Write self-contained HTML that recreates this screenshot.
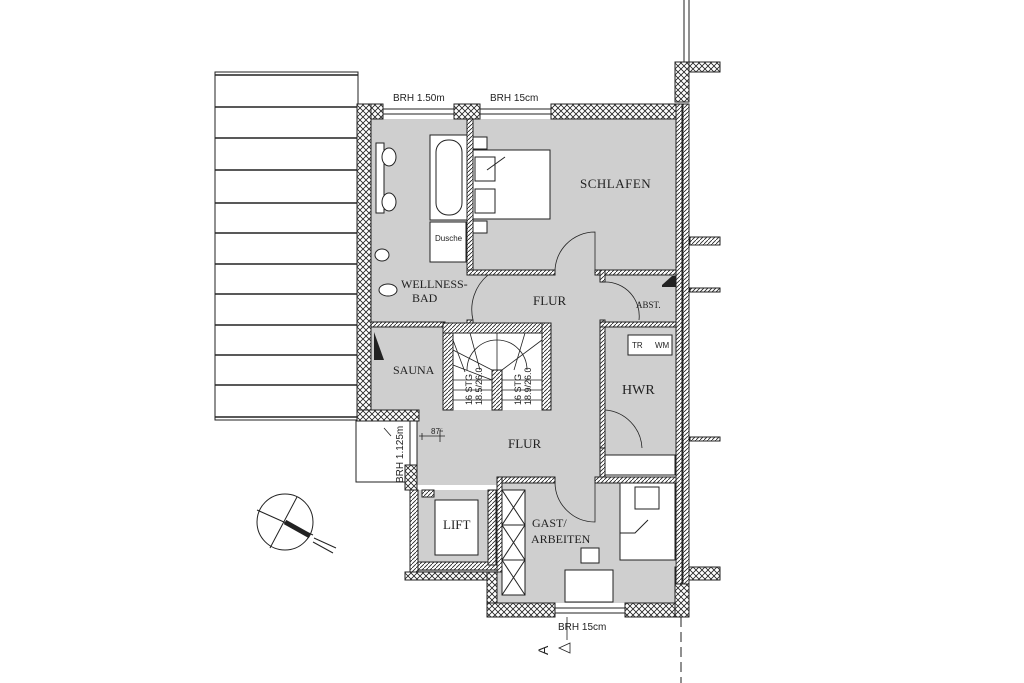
<!DOCTYPE html>
<html><head><meta charset="utf-8"><style>
html,body{margin:0;padding:0;background:#fff;}
svg{display:block}
text{font-family:"Liberation Serif",serif;fill:#222}
.s{font-family:"Liberation Sans",sans-serif}
</style></head><body>
<svg width="1024" height="683" viewBox="0 0 1024 683" xmlns="http://www.w3.org/2000/svg">
<defs>
<pattern id="x" width="6" height="6" patternUnits="userSpaceOnUse">
<rect width="6" height="6" fill="#fff"/><path d="M0 0L6 6M6 0L0 6" stroke="#222" stroke-width="0.8"/></pattern>
<pattern id="h" width="4" height="4" patternUnits="userSpaceOnUse">
<rect width="4" height="4" fill="#fff"/><path d="M0 4L4 0" stroke="#222" stroke-width="0.8"/></pattern>
</defs>
<g stroke="#222" stroke-width="1" fill="none">
<rect x="215" y="72" width="143" height="348" fill="#fff"/>
<path d="M215 75H358M215 107H358M215 138H358M215 170H358M215 203H358M215 233H358M215 264H358M215 294H358M215 325H358M215 355H358M215 385H358M215 417H358" stroke-width="1.5"/>
<path d="M356 420V482H405"/>
<circle cx="285" cy="522" r="28" fill="#fff"/>
<path d="M257 510L313 535M297 497L270 548"/>
<path d="M285 522L310 536" stroke-width="5"/>
<path d="M314 538L336 548M313 542L333 553"/>
<path d="M684 0V62M689 0V62"/>
<path d="M681 617V683" stroke-dasharray="10 5"/>
</g>
<g fill="#cfcfcf">
<rect x="371" y="119" width="305" height="155"/>
<rect x="371" y="270" width="230" height="55"/>
<rect x="601" y="274" width="75" height="50"/>
<rect x="371" y="323" width="75" height="90"/>
<rect x="551" y="323" width="50" height="160"/>
<rect x="601" y="325" width="75" height="130"/>
<rect x="410" y="410" width="192" height="75"/>
<rect x="497" y="483" width="178" height="120"/>
<rect x="418" y="490" width="78" height="82"/>
</g>
<g fill="#fff" stroke="#222" stroke-width="1">
<rect x="430" y="135" width="37" height="85"/>
<rect x="436" y="140" width="26" height="75" rx="12"/>
<rect x="430" y="222" width="36" height="40"/>
<rect x="473" y="150" width="77" height="69"/>
<rect x="475" y="157" width="20" height="24"/><rect x="475" y="189" width="20" height="24"/>
<rect x="473" y="137" width="14" height="12"/><rect x="473" y="221" width="14" height="12"/>
<rect x="376" y="143" width="8" height="70"/>
<ellipse cx="389" cy="157" rx="7" ry="9"/><ellipse cx="389" cy="202" rx="7" ry="9"/>
<ellipse cx="382" cy="255" rx="7" ry="6"/><ellipse cx="388" cy="290" rx="9" ry="6"/>
<rect x="628" y="335" width="44" height="20"/>
<rect x="605" y="455" width="70" height="20"/>
<rect x="620" y="483" width="55" height="77"/>
<rect x="635" y="487" width="24" height="22"/>
<rect x="565" y="570" width="48" height="32"/>
<rect x="581" y="548" width="18" height="15"/>
<rect x="502" y="490" width="23" height="105"/>
<rect x="435" y="500" width="43" height="55"/>
</g>
<path d="M502 490L525 525L502 560L525 595M525 490L502 525L525 560L502 595M502 525H525M502 560H525" stroke="#222" fill="none"/>
<path d="M487 170L505 157M648 520L635 533H620" stroke="#222" fill="none"/>
<path d="M662 285L672 276H680V287H662Z" fill="#222"/>
<path d="M374 332V360H384Z" fill="#222"/>
<g fill="url(#x)" stroke="#222" stroke-width="1">
<rect x="357" y="104" width="26" height="15"/>
<rect x="454" y="104" width="26" height="15"/>
<rect x="551" y="104" width="125" height="15"/>
<rect x="357" y="104" width="14" height="316"/>
<rect x="357" y="410" width="62" height="11"/>
<rect x="405" y="465" width="12" height="25"/>
<rect x="487" y="572" width="10" height="45"/>
<rect x="487" y="603" width="68" height="14"/>
<rect x="625" y="603" width="64" height="14"/>
<rect x="675" y="62" width="45" height="10"/>
<rect x="675" y="62" width="14" height="40"/>
<rect x="675" y="567" width="45" height="13"/>
<rect x="675" y="580" width="14" height="37"/>
<rect x="405" y="572" width="82" height="8"/>
</g>
<g stroke="#222" fill="#fff" stroke-width="1">
<rect x="383" y="109" width="71" height="5"/>
<rect x="480" y="109" width="71" height="5"/>
<rect x="555" y="608" width="70" height="5"/>
<rect x="410" y="421" width="7" height="44"/>
</g>
<g fill="url(#h)" stroke="#222" stroke-width="1">
<rect x="676" y="104" width="6" height="480"/>
<rect x="683" y="104" width="6" height="480"/>
<rect x="467" y="119" width="6" height="155"/>
<rect x="467" y="270" width="88" height="5"/>
<rect x="595" y="270" width="81" height="5"/>
<rect x="467" y="320" width="6" height="5"/>
<rect x="600" y="270" width="5" height="12"/>
<rect x="600" y="320" width="5" height="140"/>
<rect x="600" y="322" width="76" height="5"/>
<rect x="600" y="448" width="5" height="30"/>
<rect x="371" y="322" width="74" height="5"/>
<rect x="443" y="323" width="10" height="87"/>
<rect x="443" y="323" width="108" height="10"/>
<rect x="542" y="323" width="9" height="87"/>
<rect x="492" y="370" width="10" height="40"/>
<rect x="497" y="477" width="58" height="6"/>
<rect x="595" y="477" width="81" height="6"/>
<rect x="497" y="477" width="5" height="95"/>
<rect x="410" y="490" width="8" height="82"/>
<rect x="418" y="562" width="79" height="8"/>
<rect x="488" y="490" width="8" height="75"/>
<rect x="422" y="490" width="12" height="7"/>
<rect x="690" y="237" width="30" height="8"/>
<rect x="690" y="288" width="30" height="4"/>
<rect x="690" y="437" width="30" height="4"/>
</g>
<g stroke="#222" fill="none" stroke-width="0.8">
<path d="M453 350L492 370M453 365L492 380M453 380H492M453 390H492M453 400H492M502 380H542M502 390H542M502 400H542M502 370L542 340M497 370V333M480 370L470 333M465 372L453 340M514 370L525 333"/>
<path d="M467 370A30 30 0 0 1 527 370"/>
<path d="M488 275A45 45 0 0 0 473 320M555 274A40 40 0 0 1 595 232V274M605 282A34 34 0 0 1 639 320M605 410A40 40 0 0 1 642 448M555 483A40 40 0 0 0 595 522V483"/>
<path d="M419 436L445 436M384 428L391 436M422 433V440M440 430V442"/>
<path d="M567 640V617"/>
<path d="M559 648L570 643V653Z"/>
</g>
<text x="580" y="188" font-size="13" letter-spacing="0.5">SCHLAFEN</text>
<text x="401" y="288" font-size="12">WELLNESS-</text>
<text x="412" y="302" font-size="12">BAD</text>
<text x="533" y="305" font-size="13">FLUR</text>
<text x="636" y="308" font-size="9">ABST.</text>
<text x="393" y="374" font-size="12">SAUNA</text>
<text x="622" y="394" font-size="14">HWR</text>
<text x="508" y="448" font-size="13">FLUR</text>
<text x="443" y="529" font-size="13">LIFT</text>
<text x="532" y="527" font-size="12">GAST/</text>
<text x="531" y="543" font-size="12">ARBEITEN</text>
<text class="s" x="393" y="101" font-size="10">BRH 1.50m</text>
<text class="s" x="490" y="101" font-size="10">BRH 15cm</text>
<text class="s" x="558" y="630" font-size="10">BRH 15cm</text>
<text class="s" x="435" y="241" font-size="8">Dusche</text>
<text class="s" x="632" y="348" font-size="8">TR</text>
<text class="s" x="655" y="348" font-size="8">WM</text>
<text class="s" x="431" y="434" font-size="8">87⁵</text>
<text class="s" x="403" y="483" font-size="10" transform="rotate(-90 403 483)">BRH 1.125m</text>
<text class="s" x="472" y="405" font-size="9" transform="rotate(-90 472 405)">16 STG</text>
<text class="s" x="482" y="405" font-size="9" transform="rotate(-90 482 405)">18.5/26.0</text>
<text class="s" x="521" y="405" font-size="9" transform="rotate(-90 521 405)">16 STG</text>
<text class="s" x="531" y="405" font-size="9" transform="rotate(-90 531 405)">18.9/26.0</text>
<text class="s" x="548" y="655" font-size="14" transform="rotate(-90 548 655)">A</text>
</svg>
</body></html>
